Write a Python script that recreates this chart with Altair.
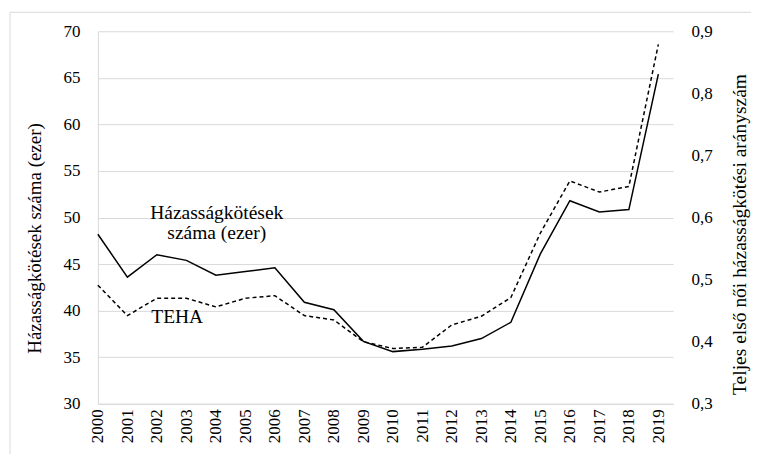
import altair as alt
import pandas as pd

FONT = "Liberation Serif"
GRID = "#d9d9d9"

years = list(range(2000, 2020))
marriages = [48.2, 43.6, 46.0, 45.4, 43.8, 44.2, 44.6, 40.9, 40.1, 36.7,
             35.6, 35.85, 36.2, 37.0, 38.75, 46.1, 51.8, 50.6, 50.85, 65.4]
teha = [0.491, 0.442, 0.470, 0.470, 0.456, 0.470, 0.474, 0.442, 0.435, 0.400,
        0.389, 0.391, 0.427, 0.441, 0.471, 0.575, 0.659, 0.641, 0.650, 0.879]
left_ticks = [30, 35, 40, 45, 50, 55, 60, 65, 70]
right_ticks = [0.3, 0.4, 0.5, 0.6, 0.7, 0.8, 0.9]

ann_text = ["Házasságkötések", "száma (ezer)", "TEHA"]
ann_x = [2004.03, 2004.03, 2002.69]
ann_y = [49.89, 47.64, 38.64]

df = pd.DataFrame({"year": years, "marriages": marriages, "teha": teha})
ann = pd.DataFrame({"text": ann_text, "x": ann_x, "y": ann_y})

xscale = alt.Scale(domain=[2000, 2019.5], nice=False, zero=False)
lscale = alt.Scale(domain=[30, 70], nice=False, zero=False)
rscale = alt.Scale(domain=[0.3, 0.9], nice=False, zero=False)

xaxis = alt.Axis(values=years, format="d", labelAngle=-90, ticks=False, grid=False,
                 domainColor=GRID, labelPadding=5, labelFontSize=17, labelFont=FONT,
                 labelColor="black", labelFlush=False, labelOverlap=False, title=None)

laxis = alt.Axis(values=left_ticks, ticks=False, grid=True, gridColor=GRID,
                 domainColor=GRID, labelPadding=18, labelFontSize=17, labelFont=FONT,
                 labelColor="black", title="Házasságkötések száma (ezer)",
                 titleFont=FONT, titleFontSize=19, titleFontWeight="normal",
                 titleColor="black", titleAngle=270, titleX=-63, titleY=207,
                 titleAlign="center", titleBaseline="middle")

raxis = alt.Axis(orient="right", values=right_ticks, ticks=False, grid=False,
                 domain=False, labelPadding=18, labelFontSize=17, labelFont=FONT,
                 labelColor="black",
                 labelExpr="replace(format(datum.value, '.1f'), '.', ',')",
                 title="Teljes első női házasságkötési arányszám",
                 titleFont=FONT, titleFontSize=19.5, titleFontWeight="normal",
                 titleColor="black", titleAngle=270, titleX=66, titleY=203,
                 titleAlign="center", titleBaseline="middle")

X = alt.X("year:Q", scale=xscale, axis=xaxis)

border = alt.Chart(pd.DataFrame({"a": [0]})).mark_rect(
    fillOpacity=0, stroke=GRID, strokeWidth=1
).encode(x=alt.value(-88), y=alt.value(-19), x2=alt.value(720), y2=alt.value(480))

solid = alt.Chart(df).mark_line(color="black", strokeWidth=1.5).encode(
    x=X,
    y=alt.Y("marriages:Q", scale=lscale, axis=laxis),
)

dashed = alt.Chart(df).mark_line(color="black", strokeWidth=1.5, strokeDash=[4, 3]).encode(
    x=X,
    y=alt.Y("teha:Q", scale=rscale, axis=raxis),
)

texts = alt.Chart(ann).mark_text(font=FONT, fontSize=19.5, color="black",
                                 align="center", baseline="alphabetic").encode(
    x=alt.X("x:Q", scale=xscale, axis=xaxis),
    y=alt.Y("y:Q", scale=lscale, axis=None),
    text="text:N",
)

chart = alt.layer(border, solid, texts, dashed).resolve_scale(y="independent").properties(
    width=576, height=373,
    autosize=alt.AutoSizeParams(type="none"),
    padding={"left": 90, "top": 23, "right": 78, "bottom": 50},
    background="white",
).configure_view(strokeWidth=0)

chart.save("out.html", embed_options={"renderer": "svg", "actions": False})
